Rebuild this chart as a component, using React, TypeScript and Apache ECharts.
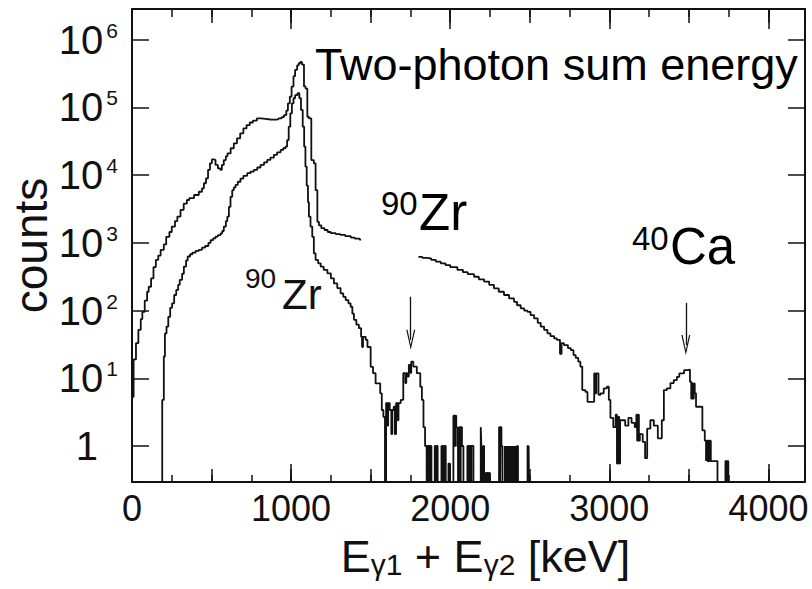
import React, { useEffect, useRef } from "react";
import * as echarts from "echarts";

// Bins with zero counts: placed below the log-axis floor so the histogram drops to the frame.
const EMPTY = 0.1;

// Two-photon sum spectrum without gate (upper trace): [bin start keV, counts]
const ungatedSpectrum: [number, number | null][] = [
  [0, 5.3], [10, 19], [25, 33], [40, 52], [55, 75], [65, 96], [80, 140], [95, 190], [105, 225],
  [120, 300], [135, 440], [150, 560], [165, 650], [180, 790], [200, 950], [215, 1230], [235, 1450],
  [250, 1740], [270, 2100], [285, 2450], [305, 3080], [325, 3800], [345, 4300], [360, 4600],
  [390, 5100], [420, 5700], [440, 6400], [452, 7600], [465, 9000], [478, 12000], [490, 15000],
  [502, 17100], [514, 16700], [525, 14200], [540, 12600], [555, 12000], [565, 14200], [577, 16700],
  [590, 19000], [600, 21000], [620, 25000], [640, 29600], [660, 35000], [680, 41500], [700, 49000],
  [720, 55000], [740, 60000], [760, 64000], [785, 69000], [810, 68000], [840, 66500], [870, 66000],
  [900, 67000], [920, 69000], [940, 72000], [955, 77000], [970, 90000], [980, 115000], [992, 145000],
  [1003, 204000], [1015, 290000], [1025, 360000], [1038, 420000], [1048, 450000], [1058, 470000],
  [1068, 430000], [1081, 205000], [1091, 190000], [1102, 73000], [1112, 69000], [1127, 16700],
  [1143, 15000], [1154, 6000], [1165, 2050], [1175, 1820], [1190, 1650], [1210, 1550], [1230, 1450],
  [1250, 1390], [1280, 1350], [1310, 1310], [1340, 1260], [1375, 1200], [1400, 1160], [1430, 1120],
  [1440, null],
  [1800, 620], [1825, 600], [1850, 590], [1880, 560], [1910, 530], [1940, 500], [1970, 470],
  [2000, 440], [2045, 400], [2080, 370], [2110, 345], [2150, 316], [2180, 290], [2213, 268],
  [2245, 240], [2275, 213], [2305, 190], [2338, 170], [2370, 152], [2401, 135], [2420, 120],
  [2443, 108], [2465, 100], [2486, 96], [2505, 86], [2527, 77], [2550, 66], [2569, 58], [2590, 52],
  [2611, 46], [2630, 42], [2653, 39], [2670, 37], [2690, 23], [2700, 33], [2715, 31], [2740, 28],
  [2758, 26], [2775, 22], [2789, 20], [2805, 17.6], [2818, 14.9], [2830, 6.7], [2850, 6.3],
  [2863, 4.5], [2905, 11.8], [2912, 6], [2918, 11.8], [2932, 5.7], [2945, 6.0], [2965, 7.1],
  [2985, 7.5], [2997, 4.8], [3007, 2.6], [3025, 1.9], [3040, 2.9], [3048, 0.55], [3054, 2.7],
  [3062, 0.55], [3068, 2.4], [3083, 2.4], [3100, 2.0], [3120, 2.6], [3140, 2.2], [3160, 1.9],
  [3170, 2.9], [3175, 1.2], [3180, 2.9], [3186, 1.2], [3192, 1.5], [3210, 1.15], [3225, 0.66],
  [3238, 1.8], [3258, 2.4], [3280, 2.0], [3305, 1.3], [3330, 2.4], [3343, 6.7], [3362, 7.1],
  [3384, 8.5], [3405, 9.4], [3425, 10.5], [3440, 11.8], [3470, 13.2], [3495, 13.5], [3507, 8.9],
  [3515, 5], [3520, 8.4], [3526, 5], [3531, 8.4], [3537, 6.0], [3545, 3.8], [3565, 3.8],
  [3585, 1.7], [3600, 1.2], [3608, 0.6], [3612, 1.2], [3617, 0.6], [3622, 1.2], [3627, 0.6],
  [3632, 1.2], [3638, 0.6], [3680, EMPTY], [3730, 0.6], [3735, EMPTY], [3740, 0.6], [3748, EMPTY],
  [4230, EMPTY],
];

// Gated spectrum (lower trace): [bin start keV, counts]
const gatedSpectrum: [number, number][] = [
  [0, EMPTY], [190, 4.8], [200, 21], [207, 46], [217, 58], [228, 81], [240, 110], [252, 128],
  [265, 170], [278, 202], [290, 240], [300, 284], [315, 350], [326, 447], [340, 550], [350, 630],
  [365, 680], [380, 720], [400, 760], [420, 790], [440, 850], [460, 900], [480, 1000], [494, 1100],
  [510, 1170], [525, 1240], [540, 1300], [557, 1380], [567, 1500], [577, 1740], [590, 2100],
  [599, 2440], [609, 3400], [619, 4800], [630, 6000], [640, 6600], [651, 7200], [665, 8000],
  [682, 8900], [700, 9800], [724, 10700], [745, 11300], [766, 12000], [787, 13000], [808, 14200],
  [830, 15500], [850, 16800], [870, 18200], [892, 20000], [912, 21800], [934, 23600], [950, 25000],
  [965, 26500], [975, 33000], [985, 52000], [995, 82000], [1005, 115000], [1015, 137000],
  [1025, 152000], [1040, 163000], [1052, 137000], [1062, 92000], [1073, 52000], [1082, 26500],
  [1090, 13400], [1098, 7000], [1106, 4000], [1112, 2450], [1122, 1740], [1133, 1230], [1143, 700],
  [1154, 560], [1170, 500], [1186, 445], [1205, 400], [1228, 355], [1250, 300], [1269, 252],
  [1290, 215], [1311, 180], [1328, 160], [1343, 143], [1360, 128], [1374, 114], [1385, 90],
  [1395, 73], [1410, 62], [1426, 55], [1440, 41], [1446, 29], [1452, 41], [1469, 37], [1480, 29],
  [1500, 14.8], [1515, 11.9], [1531, 8.4], [1560, 6.0], [1570, 3.4], [1580, 2.7], [1590, EMPTY],
  [1597, 4.3], [1605, 2.0], [1610, 4.3], [1620, 3.4], [1630, 1.5], [1636, 3.4], [1645, 3.8],
  [1652, 1.5], [1660, 4.3], [1670, 2.4], [1675, 4.3], [1689, 4.8], [1705, 11.9], [1718, 8.5],
  [1724, 11.9], [1731, 10.6], [1740, 15.8], [1750, 12], [1755, 17.6], [1768, 14.9], [1790, 11.9],
  [1812, 7.5], [1822, 4.8], [1832, 1.9], [1842, 1.0], [1852, EMPTY],
  [1857, 1], [1862, EMPTY], [1865, 1], [1871, EMPTY], [1875, 1], [1882, EMPTY],
  [1903, 1], [1908, EMPTY], [1913, 1], [1921, EMPTY],
  [1945, 1], [1951, EMPTY], [1956, 1], [1962, EMPTY], [1966, 1], [1972, EMPTY],
  [1989, 0.55], [1999, EMPTY],
  [2020, 2.8], [2026, 1], [2031, 2.8], [2038, 1.9], [2044, 1], [2049, EMPTY],
  [2055, 1.9], [2061, EMPTY], [2066, 1.9], [2074, 1], [2083, EMPTY],
  [2108, 1], [2114, EMPTY], [2119, 1], [2127, EMPTY], [2133, 1], [2146, EMPTY],
  [2192, 1.9], [2196, 1], [2199, EMPTY], [2202, 1], [2205, EMPTY], [2208, 1], [2213, EMPTY],
  [2223, 0.4], [2228, EMPTY], [2232, 0.4], [2238, EMPTY], [2243, 0.4], [2250, EMPTY],
  [2307, 1.9], [2312, EMPTY], [2316, 1.9], [2322, 1], [2328, EMPTY],
  [2343, 1], [2347, EMPTY], [2350, 1], [2354, EMPTY], [2357, 1], [2361, EMPTY], [2364, 1],
  [2368, EMPTY], [2371, 1], [2375, EMPTY], [2378, 1], [2382, EMPTY], [2385, 1], [2389, EMPTY],
  [2392, 1], [2396, EMPTY], [2399, 1], [2403, EMPTY], [2406, 1], [2410, EMPTY], [2413, 1],
  [2417, EMPTY], [2420, 1], [2426, EMPTY],
  [2486, 1], [2491, EMPTY], [2493, 1], [2497, EMPTY], [4230, EMPTY],
];

// Arrows marking the peaks: energy, counts at the tail, counts at the head
const peakArrows = [
  { energy: 1752, from: 160, to: 37 },
  { energy: 3481, from: 130, to: 31 },
];

const X_MIN = 0;
const X_MAX = 4230;
const X_LABEL_STEP = 1000;
const Y_MIN = 0.294;
const Y_MAX = 2.85e6;

const FONT_SANS = '"Liberation Sans", Arial, Helvetica, sans-serif';
const INK = "#111";
const CHEVRON = "path://M5,0L10,14L8.6,14L5,3.6L1.4,14L0,14Z";

function tickAxis(position: "top" | "bottom", interval: number, length: number) {
  return {
    type: "value",
    position,
    min: X_MIN,
    max: X_MAX,
    interval,
    axisLine: { show: false, onZero: false },
    axisLabel: { show: false },
    axisTick: { show: true, inside: true, length, lineStyle: { color: INK, width: 1.5 } },
    splitLine: { show: false },
  };
}

function label(text: string, x: number, y: number, size: number, fill = "#000") {
  return {
    type: "text",
    x,
    y,
    style: { text, x: 0, y: 0, fontSize: size, fontFamily: FONT_SANS, fill, align: "left", verticalAlign: "middle" },
  };
}

export default function App() {
  const ref = useRef<HTMLDivElement>(null);

  useEffect(() => {
    document.body.style.margin = "0";
    if (!ref.current) return;
    const chart = echarts.init(ref.current, undefined, { renderer: "svg" });

    const yLabel = (v: number) => {
      const l = Math.log10(v);
      const k = Math.round(l);
      if (Math.abs(l - k) > 1e-6) return "";
      if (k === 0) return "{n|1}{pad| }";
      return `{n|10}{s|${k}}`;
    };

    const option: any = {
      animation: false,
      backgroundColor: "#fff",
      grid: { left: 132, right: 7, top: 9, bottom: 107, containLabel: false, outerBoundsMode: "none" },
      xAxis: [
        {
          type: "value",
          position: "bottom",
          min: X_MIN,
          max: X_MAX,
          interval: X_LABEL_STEP,
          axisLine: { show: true, onZero: false, lineStyle: { color: INK, width: 2 } },
          axisTick: { show: true, inside: true, length: 18, lineStyle: { color: INK, width: 1.5 } },
          axisLabel: {
            margin: 8,
            color: INK,
            fontSize: 36,
            fontFamily: FONT_SANS,
            formatter: (v: number) => (v % X_LABEL_STEP === 0 ? String(v) : ""),
          },
          splitLine: { show: false },
          name: "E{sub|γ1} + E{sub|γ2} [keV]",
          nameLocation: "middle",
          nameGap: 52,
          nameMoveOverlap: false,
          nameTextStyle: {
            color: INK,
            fontSize: 45,
            fontFamily: FONT_SANS,
            padding: [0, 0, 0, 34],
            rich: {
              sub: { fontSize: 30, lineHeight: 20, verticalAlign: "bottom", fontFamily: FONT_SANS, color: INK },
            },
          },
        },
        tickAxis("bottom", 500, 13),
        tickAxis("bottom", 250, 7),
        {
          ...tickAxis("top", 1000, 20),
          axisLine: { show: true, onZero: false, lineStyle: { color: INK, width: 2 } },
        },
        tickAxis("top", 500, 14),
        tickAxis("top", 250, 8),
      ],
      yAxis: [
        {
          type: "log",
          logBase: 10,
          position: "left",
          min: Y_MIN,
          max: Y_MAX,
          axisLine: { show: true, onZero: false, lineStyle: { color: INK, width: 2 } },
          axisTick: { show: true, inside: true, length: 17, lineStyle: { color: INK, width: 1.5 } },
          axisLabel: {
            margin: 14,
            color: INK,
            formatter: yLabel,
            rich: {
              n: { fontSize: 40, lineHeight: 40, fontFamily: FONT_SANS, color: INK },
              s: { fontSize: 21, lineHeight: 20, verticalAlign: "top", fontFamily: FONT_SANS, color: INK, padding: [0, 0, 0, 3] },
              pad: { width: 20, fontSize: 20 },
            },
          },
          splitLine: { show: false },
          name: "counts",
          nameLocation: "middle",
          nameGap: 78,
          nameMoveOverlap: false,
          nameTextStyle: { color: INK, fontSize: 46, fontFamily: FONT_SANS },
        },
        {
          type: "log",
          logBase: 10,
          position: "right",
          min: Y_MIN,
          max: Y_MAX,
          axisLine: { show: true, onZero: false, lineStyle: { color: INK, width: 2 } },
          axisTick: { show: true, inside: true, length: 17, lineStyle: { color: INK, width: 1.5 } },
          axisLabel: { show: false },
          splitLine: { show: false },
        },
      ],
      series: [
        {
          name: "sum",
          type: "line",
          step: "end",
          symbol: "none",
          showSymbol: false,
          connectNulls: false,
          clip: true,
          lineStyle: { color: INK, width: 1.8 },
          data: ungatedSpectrum,
          markLine: {
            silent: true,
            symbol: ["none", CHEVRON],
            symbolSize: [9, 20],
            label: { show: false },
            lineStyle: { color: INK, width: 1.3, type: "solid" },
            data: peakArrows.map((a) => [{ coord: [a.energy, a.from] }, { coord: [a.energy, a.to] }]),
          },
        },
        {
          name: "gated",
          type: "line",
          step: "end",
          symbol: "none",
          showSymbol: false,
          clip: true,
          lineStyle: { color: INK, width: 1.8 },
          data: gatedSpectrum,
        },
      ],
      graphic: [
        label("Two-photon sum energy", 315, 64, 45),
        label("90", 381, 203, 33),
        label("Zr", 419, 212, 51),
        label("40", 632, 238, 33),
        label("Ca", 670, 246, 51),
        label("90", 245, 278, 28, INK),
        label("Zr", 282, 294.5, 42, INK),
      ],
    };

    chart.setOption(option);
    return () => chart.dispose();
  }, []);

  return (
    <div
      ref={ref}
      style={{ position: "absolute", left: 0, top: 0, width: 812, height: 589, background: "#fff" }}
    />
  );
}
